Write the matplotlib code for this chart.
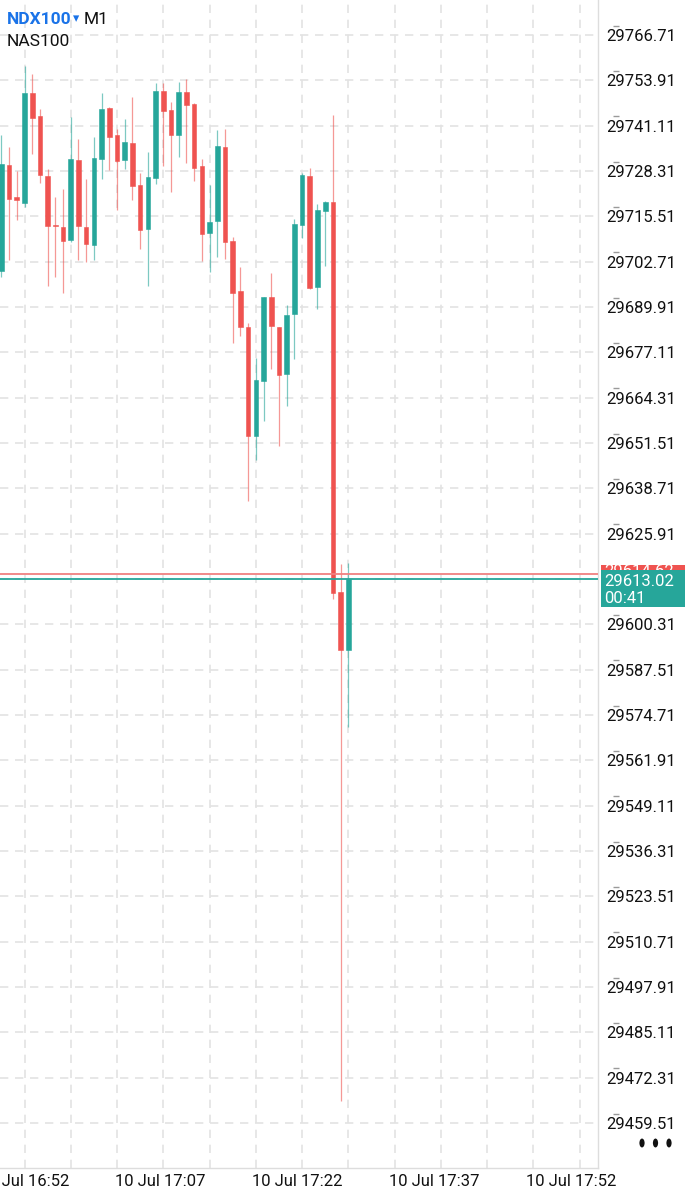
import matplotlib
matplotlib.use('Agg')
import matplotlib.pyplot as plt
from matplotlib.patches import Rectangle, Circle

# ---------------- data ----------------
bar_index = list(range(-3, 43))
opens = [29700.16, 29729.92, 29720.88, 29719.36, 29750.25, 29743.84, 29726.98, 29713.15,
         29712.58, 29708.74, 29731.50, 29712.58, 29707.50, 29731.78, 29746.18, 29738.39,
         29731.33, 29736.13, 29724.27, 29712.02, 29726.25, 29750.81, 29745.53, 29738.39,
         29750.61, 29747.14, 29729.72, 29710.89, 29714.28, 29735.17, 29708.46, 29694.43,
         29684.18, 29653.49, 29669.10, 29692.82, 29684.35, 29670.91, 29687.85, 29713.06,
         29726.98, 29695.47, 29717.10, 29719.64, 29609.53, 29593.06]
highs = [29738.47, 29735.00, 29728.31, 29757.96, 29755.70, 29745.73, 29728.79, 29720.88,
         29723.14, 29743.64, 29737.43, 29726.13, 29737.82, 29750.25, 29746.30, 29740.17,
         29743.08, 29749.20, 29727.66, 29733.76, 29753.07, 29753.07, 29747.71, 29753.44,
         29754.28, 29747.42, 29731.61, 29724.36, 29739.88, 29740.08, 29709.59, 29701.12,
         29685.48, 29675.42, 29692.65, 29699.42, 29684.35, 29690.47, 29714.67, 29727.66,
         29729.07, 29718.99, 29719.84, 29744.12, 29617.35, 29617.71]
lows = [29698.46, 29703.18, 29714.47, 29718.23, 29733.02, 29725.01, 29695.92, 29698.29,
        29693.95, 29708.18, 29703.18, 29702.70, 29703.09, 29726.05, 29728.59, 29717.30,
        29728.87, 29720.12, 29706.20, 29695.84, 29724.55, 29729.72, 29722.29, 29732.26,
        29730.65, 29725.57, 29702.90, 29699.88, 29704.11, 29703.46, 29679.83, 29681.81,
        29635.13, 29646.71, 29657.81, 29672.32, 29650.75, 29661.96, 29675.23, 29709.48,
        29694.91, 29689.34, 29701.57, 29607.46, 29465.81, 29571.41]
closes = [29730.28, 29720.32, 29720.04, 29750.25, 29743.19, 29727.18, 29712.86, 29712.70,
          29708.55, 29731.61, 29712.86, 29707.70, 29731.98, 29745.82, 29737.91, 29731.13,
          29736.41, 29723.99, 29711.65, 29726.70, 29750.98, 29745.25, 29738.56, 29750.61,
          29746.86, 29729.07, 29710.60, 29714.00, 29735.37, 29708.35, 29693.78, 29684.35,
          29653.49, 29669.38, 29692.65, 29684.63, 29670.62, 29687.65, 29713.34, 29727.18,
          29695.19, 29717.30, 29719.64, 29609.07, 29593.06, 29613.02]

price_ticks = [29766.71, 29753.91, 29741.11, 29728.31, 29715.51, 29702.71, 29689.91,
               29677.11, 29664.31, 29651.51, 29638.71, 29625.91, 29613.11, 29600.31,
               29587.51, 29574.71, 29561.91, 29549.11, 29536.31, 29523.51, 29510.71,
               29497.91, 29485.11, 29472.31, 29459.51]
time_labels = ["10 Jul 16:52", "10 Jul 17:07", "10 Jul 17:22", "10 Jul 17:37", "10 Jul 17:52"]
time_label_pos = [0, 17.65, 35.4, 53.1, 70.95]
grid_pos = list(range(0, 73, 6))

bid_price = 29613.02
ask_price = 29614.62
bid_label = "29613.02"
ask_label = "29614.62"
timer_label = "00:41"
symbol = "NDX100"
timeframe = "M1"
description = "NAS100"

# ---------------- style ----------------
GREEN = '#26a69a'
RED = '#ef5350'
GRID = '#e3e3e3'
FONT = ['Roboto', 'DejaVu Sans']
plt.rcParams['font.family'] = FONT

W, H = 700, 1200
fig = plt.figure(figsize=(W / 100, H / 100), dpi=100)
ax = fig.add_axes([0, 32 / H, 598 / W, 1168 / H])
ax.set_xlim(-3.178, 74.38)
ax.set_ylim(29446.81, 29776.59)

# grid
for gx in grid_pos:
    ax.axvline(gx, color=GRID, lw=1.2, dashes=(5, 4), zorder=0)
for gy in price_ticks:
    ax.axhline(gy, color=GRID, lw=1.2, dashes=(5, 4), zorder=0)

# candles
colors = [GREEN if c >= o else RED for o, c in zip(opens, closes)]
ax.vlines(bar_index, lows, highs, colors=colors, lw=0.9, alpha=0.6, zorder=2)
bottoms = [min(o, c) for o, c in zip(opens, closes)]
heights = [max(abs(c - o), 0.45) for o, c in zip(opens, closes)]
ax.bar(bar_index, heights, bottom=bottoms, width=0.6, color=colors,
       edgecolor=colors, linewidth=0.4, zorder=3)

# bid / ask lines
ax.axhline(ask_price, color='#f08080', lw=1.3, zorder=4)
ax.axhline(bid_price, color=GREEN, lw=1.3, zorder=4)

# spines
for s in ['top', 'left']:
    ax.spines[s].set_visible(False)
for s in ['right', 'bottom']:
    ax.spines[s].set_color('#dddddd')
    ax.spines[s].set_linewidth(1.0)

# y ticks on right
ax.yaxis.tick_right()
ax.set_yticks(price_ticks)
ax.set_yticklabels([f"{p:.2f}" for p in price_ticks], fontsize=12, color='#111111')
ax.tick_params(axis='y', length=0, pad=6)

# x ticks
ax.set_xticks([])
ax.set_xticks(time_label_pos, minor=True)
ax.set_xticklabels(time_labels, minor=True, fontsize=12, color='#111111')
ax.tick_params(axis='x', which='both', length=0, pad=4)

# small marks above price labels
ax.plot([1.030] * len(price_ticks), [p + 2.6 for p in price_ticks], ls='none',
        marker='_', ms=4, mew=1.0, color='#9a9a9a',
        transform=ax.get_yaxis_transform(), clip_on=False)

# price tags (positions derived from data)
fig.canvas.draw()
def img_y(price):
    return H - ax.transData.transform((0, price))[1]

ya = img_y(ask_price)
yb = img_y(bid_price)
def fx(px):
    return px / W
def fy(py):
    return 1 - py / H

fig.add_artist(Rectangle((fx(601), fy(ya + 16)), 84 / W, 25 / H, transform=fig.transFigure,
                         facecolor=RED, edgecolor='none', zorder=5))
fig.text(fx(604), fy(ya - 2), ask_label, color='white', fontsize=12, va='center',
         ha='left', zorder=6)
fig.add_artist(Rectangle((fx(601), fy(yb + 28)), 84 / W, 37 / H, transform=fig.transFigure,
                         facecolor=GREEN, edgecolor='none', zorder=7))
fig.text(fx(604), fy(yb + 2), bid_label, color='white', fontsize=12, va='center',
         ha='left', zorder=8)
fig.text(fx(604), fy(yb + 19), timer_label, color='white', fontsize=12, va='center',
         ha='left', zorder=8)

# header
t1 = fig.text(fx(7), fy(19), symbol, color='#1a73e8', fontsize=12.5, fontweight='bold',
              va='center', ha='left')
fig.text(fx(73), fy(19), '▾', color='#1a73e8', fontsize=9, va='center', ha='left',
         family=['DejaVu Sans'])
fig.text(fx(84), fy(19), timeframe, color='#111111', fontsize=12.5, va='center', ha='left')
fig.text(fx(7), fy(42), description, color='#111111', fontsize=12.5, va='center', ha='left')

# three dots
for dx in (642, 655.5, 669):
    fig.add_artist(Circle((fx(dx), fy(1143)), 2.6 / W, transform=fig.transFigure,
                          facecolor='#111111', edgecolor='none'))

fig.savefig('out.png', dpi=100)
